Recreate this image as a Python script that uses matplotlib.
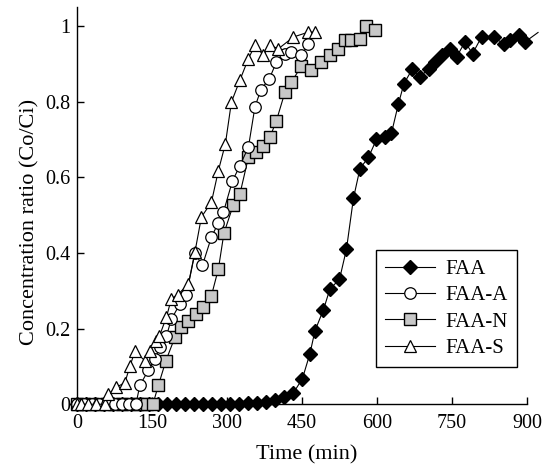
import matplotlib
matplotlib.use("Agg")
import matplotlib.pyplot as plt

plt.rcParams['font.family'] = ['Liberation Serif', 'DejaVu Serif']

# ---- data ----
faa_x = [0, 18, 36, 54, 72, 90, 108, 126, 144, 162, 180, 198, 216, 234, 252, 270,
         288, 306, 324, 342, 360, 378, 396, 414, 433, 451, 466, 476, 493, 506, 525,
         539, 553, 566, 583, 599, 616, 629, 643, 654, 671, 686, 703, 716, 729, 746,
         759, 776, 791, 809, 833, 853, 866, 883, 896, 922]
faa_y = [0, 0, 0, 0, 0, 0, 0, 0, 0, 0, 0, 0, 0, 0, 0, 0,
         0, 0, 0, 0.002, 0.004, 0.006, 0.01, 0.018, 0.03, 0.068, 0.134, 0.194, 0.25, 0.305, 0.33,
         0.41, 0.545, 0.623, 0.653, 0.70, 0.706, 0.717, 0.795, 0.848, 0.887, 0.865, 0.887, 0.905, 0.923, 0.94,
         0.918, 0.958, 0.927, 0.971, 0.971, 0.953, 0.962, 0.975, 0.958, 0.983]

faaA_x = [0, 15, 30, 45, 60, 76, 90, 104, 118, 126, 143, 156, 166, 179, 189, 206, 219,
          236, 251, 269, 283, 293, 311, 326, 343, 356, 368, 385, 399, 416, 429, 449, 463]
faaA_y = [0, 0, 0, 0, 0, 0, 0, 0, 0, 0.05, 0.09, 0.12, 0.15, 0.18, 0.225, 0.265, 0.29,
          0.40, 0.367, 0.442, 0.48, 0.508, 0.59, 0.631, 0.68, 0.786, 0.832, 0.861, 0.905, 0.925, 0.931, 0.923, 0.953]

faaN_x = [0, 15, 30, 45, 60, 75, 90, 105, 120, 129, 141, 152, 163, 178, 196, 209, 223,
          239, 253, 269, 283, 294, 313, 326, 343, 359, 373, 386, 399, 416, 429, 449,
          469, 489, 506, 523, 536, 549, 566, 579, 596]
faaN_y = [0, 0, 0, 0, 0, 0, 0, 0, 0, 0, 0, 0, 0.05, 0.115, 0.177, 0.203, 0.221,
          0.239, 0.256, 0.287, 0.358, 0.452, 0.528, 0.556, 0.653, 0.667, 0.684, 0.706, 0.75, 0.825, 0.852, 0.894,
          0.883, 0.905, 0.923, 0.94, 0.962, 0.962, 0.967, 1.0, 0.989]

faaS_x = [0, 8, 23, 39, 56, 63, 79, 96, 106, 116, 136, 146, 159, 165, 179, 189, 202,
          223, 236, 249, 269, 283, 297, 309, 326, 343, 356, 373, 386, 403, 433, 463, 476]
faaS_y = [0, 0, 0, 0, 0, 0.027, 0.045, 0.057, 0.10, 0.14, 0.115, 0.14, 0.168, 0.18, 0.23, 0.279, 0.29,
          0.318, 0.402, 0.495, 0.534, 0.618, 0.689, 0.799, 0.857, 0.914, 0.949, 0.923, 0.949, 0.94, 0.971, 0.984, 0.984]

labels = ["FAA", "FAA-A", "FAA-N", "FAA-S"]
x_ticks = [0, 150, 300, 450, 600, 750, 900]
y_ticks = [0, 0.2, 0.4, 0.6, 0.8, 1.0]
y_ticklabels = ["0", "0.2", "0.4", "0.6", "0.8", "1"]

fig = plt.figure(figsize=(5.49, 4.75), dpi=100)
ax = fig.add_axes([0.140, 0.149, 0.820, 0.836])

lw = 0.8
ax.plot(faa_x, faa_y, color='black', lw=lw, marker='D', markersize=7,
        markerfacecolor='black', markeredgecolor='black', label=labels[0],
        markevery=slice(0, len(faa_x) - 1), clip_on=False, zorder=2)
ax.plot(faaA_x, faaA_y, color='black', lw=lw, marker='o', markersize=8.3,
        markerfacecolor='white', markeredgecolor='black', markeredgewidth=0.9,
        label=labels[1], clip_on=False, zorder=4)
ax.plot(faaN_x, faaN_y, color='black', lw=lw, marker='s', markersize=8,
        markerfacecolor='#c8c8c8', markeredgecolor='black', markeredgewidth=1.0,
        label=labels[2], clip_on=False, zorder=3)
ax.plot(faaS_x, faaS_y, color='black', lw=lw, marker='^', markersize=9,
        markerfacecolor='white', markeredgecolor='black', markeredgewidth=0.9,
        label=labels[3], clip_on=False, zorder=5)

ax.set_xlim(0, 900)
ax.set_ylim(0, 1.05)
ax.set_xticks(x_ticks)
ax.set_xticklabels([str(v) for v in x_ticks])
ax.set_yticks(y_ticks)
ax.set_yticklabels(y_ticklabels)
for s in ['top', 'right']:
    ax.spines[s].set_visible(False)
for s in ['left', 'bottom']:
    ax.spines[s].set_linewidth(1.0)
ax.tick_params(axis='both', direction='in', length=5, width=1.0, labelsize=14.5)
ax.tick_params(axis='x', pad=7)
ax.tick_params(axis='y', pad=4.5)

ax.set_xlabel("Time (min)", fontsize=16)
ax.set_ylabel("Concentration ratio (Co/Ci)", fontsize=16)
ax.xaxis.set_label_coords(0.51, -0.104)
ax.yaxis.set_label_coords(-0.082, 0.46)

leg = ax.legend(loc='upper left', bbox_to_anchor=(0.664, 0.388), fontsize=15,
                frameon=True, fancybox=False, edgecolor='black', framealpha=1,
                handlelength=2.4, handletextpad=0.5, labelspacing=0.32,
                borderpad=0.45, borderaxespad=0)
leg.get_frame().set_linewidth(1.0)

fig.savefig("out.png", dpi=100)
